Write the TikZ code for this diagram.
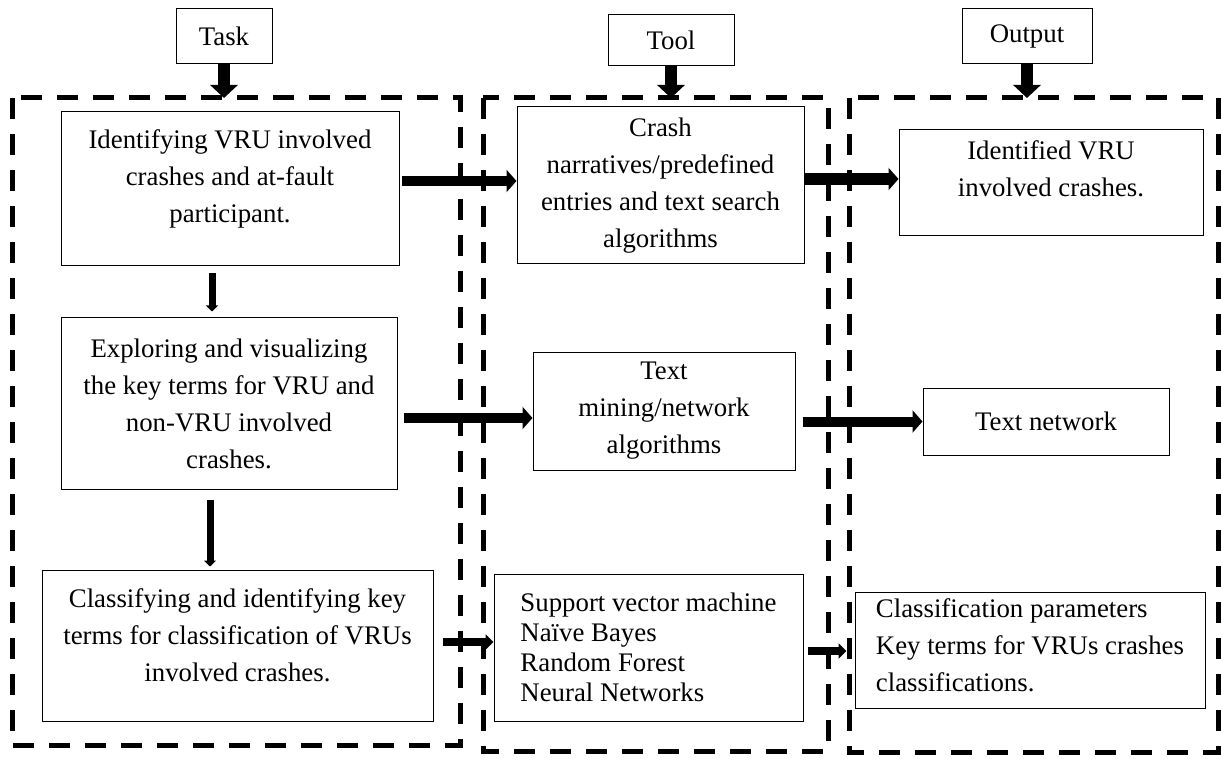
\documentclass[tikz,border=0pt]{standalone}
\usepackage{fontspec}
\setmainfont{Liberation Serif}
\usetikzlibrary{arrows.meta}

\tikzset{
	stepbox/.style={draw, line width=0.5pt, inner sep=0pt, align=center, font=\fontsize{13.4}{18.5}\selectfont},
	listbox/.style={stepbox, align=left},
	zone/.style={line width=2.5pt, dash pattern=on 10.5pt off 7.5pt},
	hflow/.style={line width=5.75pt, -{Triangle[width=13.5pt, length=6.5pt]}},
	flow/.style={line width=5pt, -{Triangle[width=11pt, length=5pt]}},
	thinflow/.style={line width=4pt, -{Triangle[width=7.5pt, length=4pt]}},
	downflow/.style={line width=3.5pt, -{Triangle[width=6pt, length=3pt]}}
}

\begin{document}
\begin{tikzpicture}[x=0.5pt, y=-0.5pt]
				\useasboundingbox (0,0) rectangle (1221,759);
				
				\draw[zone] (12,98) rectangle (460,745);
				\draw[zone] (483,98) rectangle (828,751);
				\draw[zone] (849,98) rectangle (1218,752);
				\coordinate (ztop) at (0,98);
				
				\node[stepbox, minimum width=48pt, minimum height=27.5pt] (task) at (224,36.5) {Task};
				\node[stepbox, minimum width=63pt, minimum height=25.5pt] (tool) at (671,40.5) {Tool};
				\node[stepbox, minimum width=65pt, minimum height=27.5pt] (output) at (1027,36.5) {Output};
				\draw[hflow] (task.south) -- (task.south |- ztop);
				\draw[hflow] (tool.south) -- (tool.south |- ztop);
				\draw[hflow] (output.south) -- (output.south |- ztop);
				
				\node[stepbox, minimum width=169pt, minimum height=77pt] (identify) at (230,189) {Identifying VRU involved\\crashes and at-fault\\participant.\\[-6pt]\mbox{}};
				\node[stepbox, minimum width=168pt, minimum height=85.5pt] (explore) at (229,403.5) {Exploring and visualizing\\the key terms for VRU and\\non-VRU involved\\crashes.};
				\node[stepbox, minimum width=195.5pt, minimum height=75.5pt] (classify) at (237.5,645.5) {Classifying and identifying key\\terms for classification of VRUs\\involved crashes.\\[-8pt]\mbox{}};
				
				\node[stepbox, minimum width=143.5pt, minimum height=78.5pt] (search) at (660.5,185.5) {Crash\\narratives/predefined\\entries and text search\\algorithms};
				\node[stepbox, minimum width=131pt, minimum height=59pt] (mining) at (664,411) {Text\\mining/network\\algorithms};
				\node[listbox, minimum width=154.5pt, minimum height=73.5pt, font=\fontsize{13.4}{15}\selectfont] (models) at (648.5,647.5) {Support vector machine\\Naïve Bayes\\Random Forest\\Neural Networks};
				
				\node[stepbox, minimum width=152pt, minimum height=53pt] (found) at (1051,183) {Identified VRU\\involved crashes.\\[-4pt]\mbox{}};
				\node[stepbox, minimum width=123pt, minimum height=33.5pt] (network) at (1046,421.5) {Text network};
				\node[listbox, minimum width=175pt, minimum height=58pt] (params) at (1030,650) {Classification parameters\\Key terms for VRUs crashes\\classifications.\\[-14pt]\mbox{}};
				
				\draw[downflow, shorten <=3.5pt, shorten >=3pt] ([xshift=-9pt]identify.south) -- ([xshift=-9pt]identify.south |- explore.north);
				\draw[downflow, shorten <=5pt, shorten >=1.5pt] ([xshift=-9.5pt]explore.south) -- ([xshift=-9.5pt]explore.south |- classify.north);
				
				\draw[flow, shorten <=1pt] ([yshift=4pt]identify.east) -- ([yshift=4pt]identify.east -| search.west);
				\draw[flow, line width=6pt] ([yshift=3.25pt]search.east) -- ([yshift=3.25pt]search.east -| found.west);
				\draw[flow, shorten <=3pt] ([yshift=-7.25pt]explore.east) -- ([yshift=-7.25pt]explore.east -| mining.west);
				\draw[flow, shorten <=3.5pt] (mining.east |- network.west) -- (network.west);
				\draw[thinflow, shorten <=4.5pt] ([yshift=1.75pt]classify.east) -- ([yshift=1.75pt]classify.east -| models.west);
				\draw[thinflow, shorten <=2pt, shorten >=4pt] ([yshift=-1.75pt]models.east) -- ([yshift=-1.75pt]models.east -| params.west);
			\end{tikzpicture}
\end{document}
